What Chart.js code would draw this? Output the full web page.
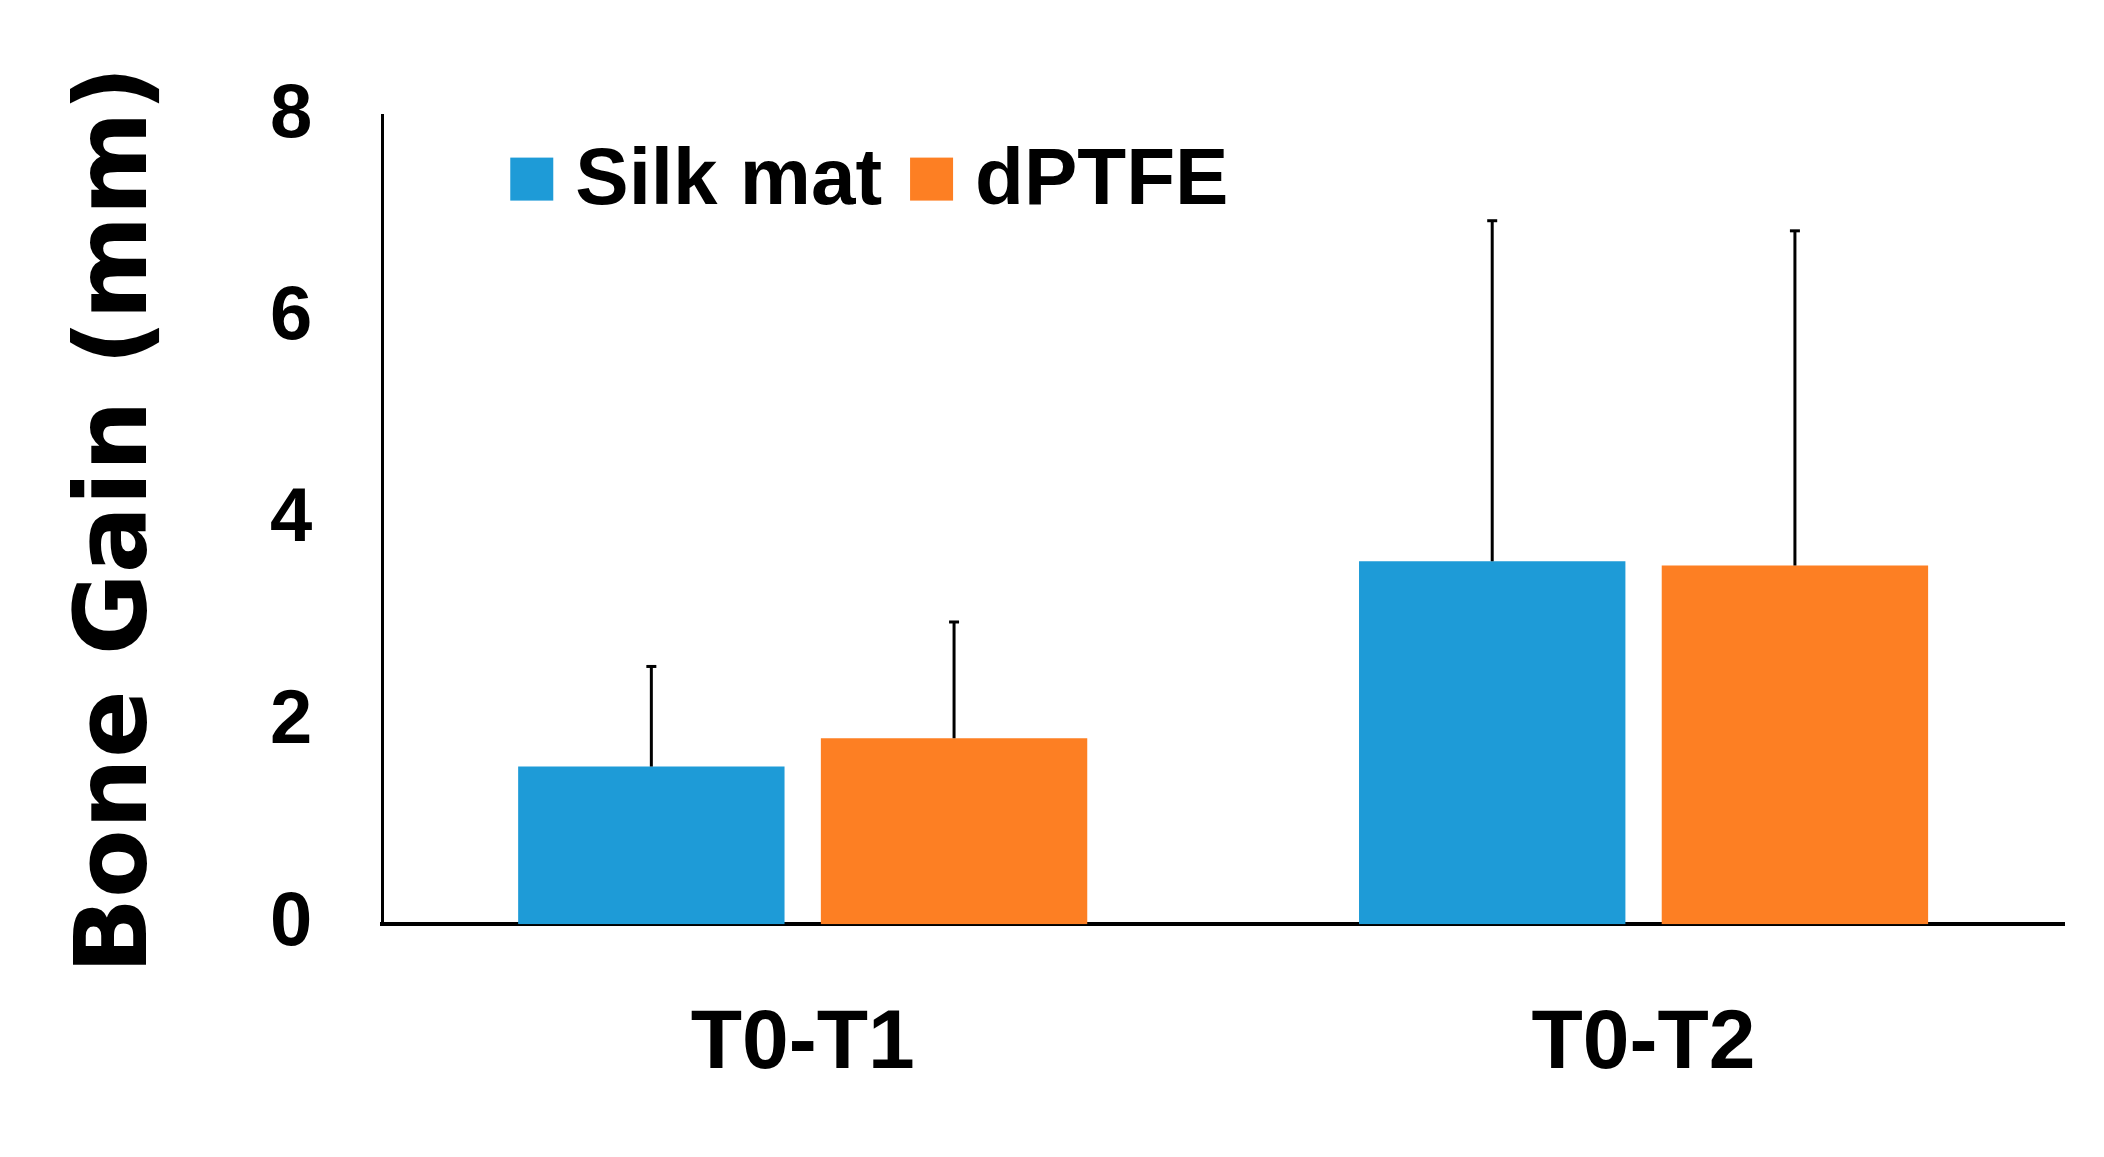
<!DOCTYPE html>
<html>
<head>
<script src="https://cdn.jsdelivr.net/npm/chart.js@4"></script>
<style>
  html, body { margin: 0; padding: 0; background: #fff; }
  #wrap { width: 2104px; height: 1157px; }
</style>
</head>
<body>
<div id="wrap"><canvas id="boneChart"></canvas></div>
<script>
const categories = ['T0-T1', 'T0-T2'];
const silkMat = [1.56, 3.59];
const silkMatErr = [0.99, 3.37];
const dptfe = [1.84, 3.55];
const dptfeErr = [1.15, 3.31];

const FONT = '"Liberation Sans", Arial, sans-serif';
const NARROW = '"Liberation Sans Narrow", "Liberation Sans", Arial, sans-serif';

// upward-only error bars with a small cap
const errorBars = {
  id: 'errorBars',
  afterDatasetsDraw(chart) {
    const ctx = chart.ctx;
    const y = chart.scales.y;
    chart.data.datasets.forEach((ds, i) => {
      const meta = chart.getDatasetMeta(i);
      meta.data.forEach((bar, j) => {
        const top = y.getPixelForValue(ds.data[j] + ds.err[j]);
        ctx.save();
        ctx.strokeStyle = '#000';
        ctx.lineWidth = 3;
        ctx.beginPath();
        ctx.moveTo(bar.x, bar.y);
        ctx.lineTo(bar.x, top);
        ctx.stroke();
        ctx.beginPath();
        ctx.moveTo(bar.x - 5, top);
        ctx.lineTo(bar.x + 5, top);
        ctx.stroke();
        ctx.restore();
      });
    });
  }
};

// legend in one row inside the plot, top-left
const insideLegend = {
  id: 'insideLegend',
  afterDraw(chart) {
    const ctx = chart.ctx;
    const area = chart.chartArea;
    let x = area.left + 128;
    const cy = area.top + 64;
    ctx.save();
    ctx.font = 'bold 80px ' + NARROW;
    ctx.textBaseline = 'middle';
    chart.data.datasets.forEach(ds => {
      ctx.fillStyle = ds.backgroundColor;
      ctx.fillRect(x, cy - 22, 43, 43);
      x += 65;
      ctx.fillStyle = '#000';
      ctx.fillText(ds.label, x, cy + 2);
      x += ctx.measureText(ds.label).width + 28;
    });
    ctx.restore();
  }
};

new Chart(document.getElementById('boneChart').getContext('2d'), {
  type: 'bar',
  data: {
    labels: categories,
    datasets: [
      { label: 'Silk mat', data: silkMat, err: silkMatErr, backgroundColor: '#1e9bd7',
        categoryPercentage: 0.72, barPercentage: 0.88 },
      { label: 'dPTFE', data: dptfe, err: dptfeErr, backgroundColor: '#fd7f23',
        categoryPercentage: 0.72, barPercentage: 0.88 }
    ]
  },
  options: {
    responsive: true,
    maintainAspectRatio: false,
    animation: false,
    layout: { padding: { top: 28, right: 40, bottom: 0, left: 40 } },
    plugins: {
      tooltip: { enabled: false },
      legend: { display: false }
    },
    scales: {
      x: {
        grid: { display: false },
        border: { color: '#000', width: 4 },
        ticks: { color: '#000', padding: 62, font: { family: NARROW, size: 84, weight: 'bold' } }
      },
      y: {
        min: 0, max: 8,
        grid: { display: false, drawTicks: false },
        border: { color: '#000', width: 3 },
        ticks: { stepSize: 2, color: '#000', padding: 70, font: { family: NARROW, size: 76, weight: 'bold' } },
        title: {
          display: true, text: 'Bone Gain (mm)', color: '#000', padding: 20,
          font: { family: '"DejaVu Sans", sans-serif', size: 100, weight: 'bold' }
        }
      }
    }
  },
  plugins: [errorBars, insideLegend]
});
</script>
</body>
</html>
